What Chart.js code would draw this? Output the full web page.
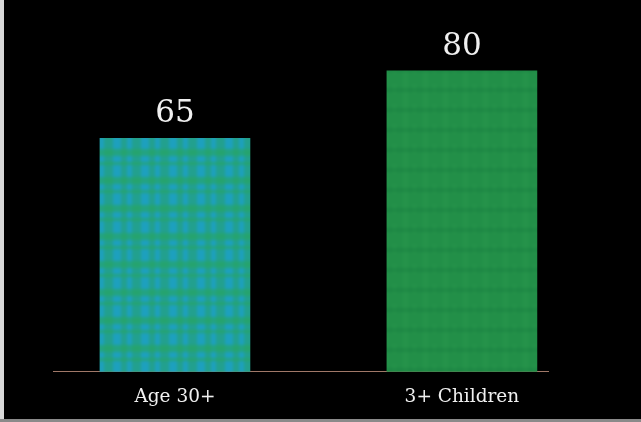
<!DOCTYPE html>
<html>
<head>
<meta charset="utf-8">
<script src="https://cdn.jsdelivr.net/npm/chart.js@4/dist/chart.umd.min.js"></script>
<style>
  html, body { margin: 0; padding: 0; background: #000; }
  #wrap { position: relative; width: 641px; height: 422px; overflow: hidden; background: #000; }
  #edgeL { position: absolute; left: 0; top: 0; width: 4px; height: 422px; background: #d9d9d9; }
  #edgeB { position: absolute; left: 0; top: 419px; width: 641px; height: 3px; background: #8a8a8a; }
  canvas { position: absolute; left: 0; top: 0; }
</style>
</head>
<body>
<div id="wrap">
  <canvas id="chart" width="641" height="422"></canvas>
  <div id="edgeL"></div>
  <div id="edgeB"></div>
</div>
<script>
// Categories and values
const categories = ['Age 30+', '3+ Children'];
const values = [65, 80];

// Turn a drawn cell into a softly blurred, seamlessly repeating pattern
function softTile(size, paint, blurPx) {
  const raw = document.createElement('canvas');
  raw.width = size; raw.height = size;
  paint(raw.getContext('2d'), size);
  const big = document.createElement('canvas');
  big.width = size * 3; big.height = size * 3;
  const b = big.getContext('2d');
  for (let i = 0; i < 3; i++) for (let j = 0; j < 3; j++) b.drawImage(raw, i * size, j * size);
  const out = document.createElement('canvas');
  out.width = size; out.height = size;
  const o = out.getContext('2d');
  o.filter = 'blur(' + blurPx + 'px)';
  o.drawImage(big, -size, -size);
  return o.createPattern(out, 'repeat');
}

// Woven teal fill for the first bar
function plaidPattern() {
  return softTile(28, (r) => {
    r.fillStyle = '#22a08e';
    r.fillRect(0, 0, 28, 28);
    r.fillStyle = 'rgba(28,160,205,0.75)';
    r.fillRect(1, 0, 8, 28);
    r.fillRect(15, 0, 5, 28);
    r.fillStyle = 'rgba(40,165,90,0.6)';
    r.fillRect(0, 9, 28, 7);
    r.fillRect(0, 22, 28, 3);
  }, 1.5);
}

// Lightly mottled green fill for the second bar
function greenPattern() {
  return softTile(20, (r) => {
    r.fillStyle = '#228f48';
    r.fillRect(0, 0, 20, 20);
    r.fillStyle = 'rgba(45,160,80,0.3)';
    r.fillRect(3, 0, 5, 20);
    r.fillRect(13, 4, 3, 10);
    r.fillStyle = 'rgba(20,120,60,0.3)';
    r.fillRect(0, 8, 20, 4);
  }, 1.5);
}

const serif = "'DejaVu Serif', 'Liberation Serif', serif";

// Value labels above each bar
const valueLabels = {
  id: 'valueLabels',
  afterDatasetsDraw(chart) {
    const ctx = chart.ctx;
    const meta = chart.getDatasetMeta(0);
    ctx.save();
    ctx.fillStyle = '#f0f0f0';
    ctx.font = '31px ' + serif;
    ctx.textAlign = 'center';
    ctx.textBaseline = 'alphabetic';
    meta.data.forEach((bar, i) => {
      ctx.fillText(String(values[i]), bar.x, bar.y - 16);
    });
    ctx.restore();
  }
};

new Chart(document.getElementById('chart'), {
  type: 'bar',
  data: {
    datasets: [{
      data: values.map((v, i) => ({ x: i, y: v })),
      backgroundColor: [plaidPattern(), greenPattern()],
      borderWidth: 0,
      barThickness: 150
    }]
  },
  options: {
    responsive: false,
    animation: false,
    layout: { padding: { left: 53, right: 93, top: 26, bottom: 0 } },
    plugins: { legend: { display: false }, tooltip: { enabled: false } },
    scales: {
      x: {
        type: 'linear',
        min: -0.425,
        max: 1.3,
        offset: false,
        afterBuildTicks(scale) { scale.ticks = categories.map((_, i) => ({ value: i })); },
        grid: { display: false, drawTicks: false },
        border: { display: true, color: '#a07868', width: 1, dash: [2, 2] },
        ticks: {
          color: '#f0f0f0',
          padding: 14,
          font: { family: serif, size: 18.5 },
          callback: (v) => categories[v] ?? ''
        }
      },
      y: {
        display: false,
        min: 13,
        max: 90
      }
    }
  },
  plugins: [valueLabels]
});
</script>
</body>
</html>
